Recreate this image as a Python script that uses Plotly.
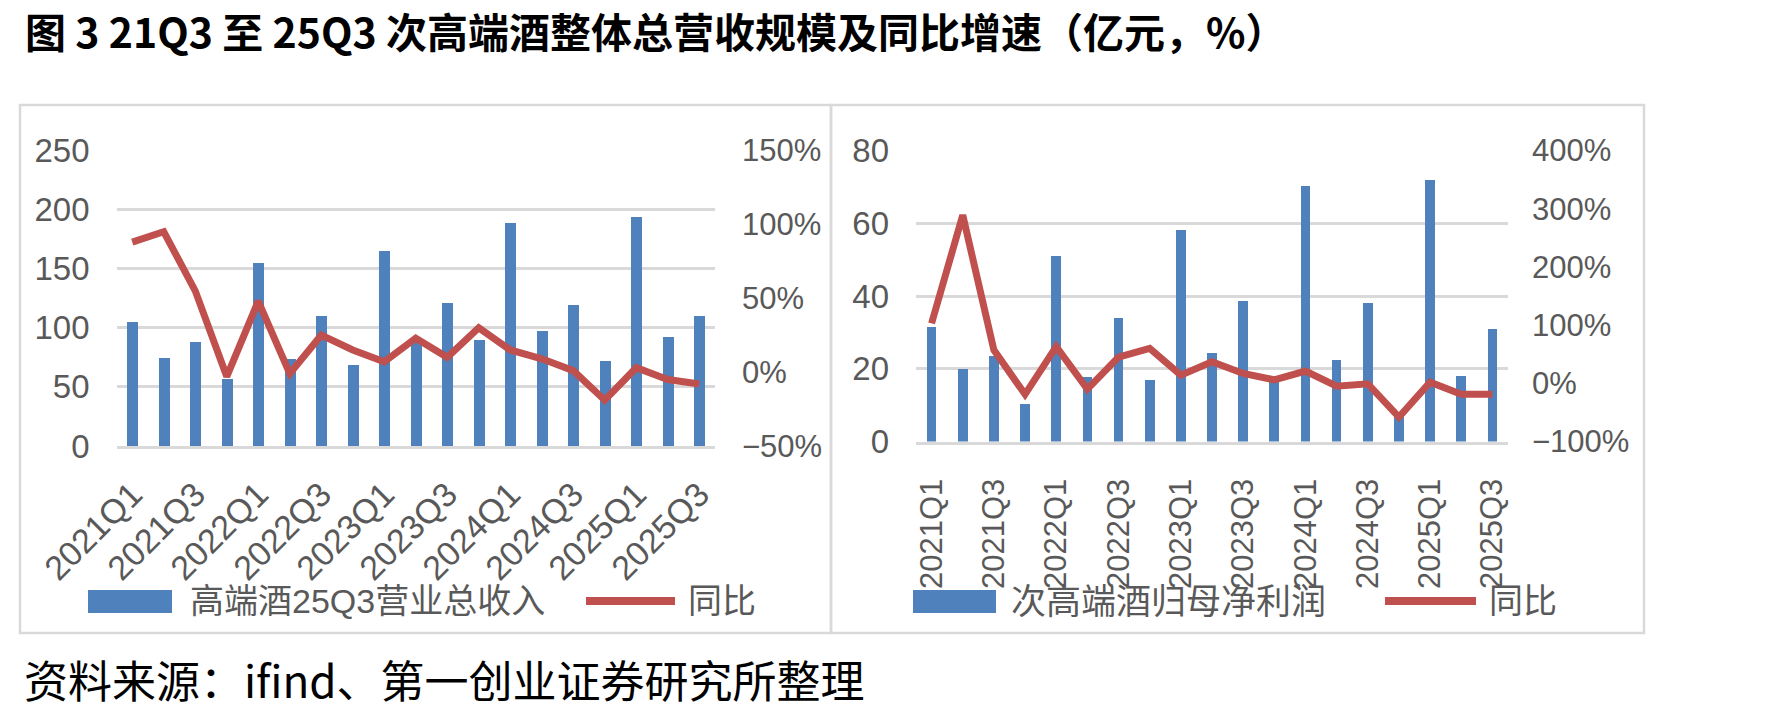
import plotly.graph_objects as go

# ---------------- data ----------------
quarters = ["2021Q1", "2021Q2", "2021Q3", "2021Q4",
            "2022Q1", "2022Q2", "2022Q3", "2022Q4",
            "2023Q1", "2023Q2", "2023Q3", "2023Q4",
            "2024Q1", "2024Q2", "2024Q3", "2024Q4",
            "2025Q1", "2025Q2", "2025Q3"]
tick_labels = quarters[::2]

# left panel: 高端酒 revenue (亿元) and YoY (%)
rev_values = [105, 75, 88, 57, 155, 74, 110, 69, 165, 88,
              121, 90, 189, 98, 120, 72, 194, 93, 110]
rev_yoy = [88, 95, 55, -3, 48, -1, 25, 15, 7, 23,
           10, 30, 15, 9, 1, -19, 3, -5, -8]

# right panel: 次高端酒 net profit (亿元) and YoY (%)
np_values = [31.5, 20, 23.7, 10.5, 51, 18, 34, 17, 58.4, 24.6,
             38.9, 17, 70.5, 22.6, 38.3, 7, 72.1, 18.2, 31.2]
np_yoy = [103, 289, 57, -19, 63, -10, 45, 60, 14, 37,
          17, 6, 21, -5, -1, -58, 2, -19, -19]

title_text = "图 3 21Q3 至 25Q3 次高端酒整体总营收规模及同比增速（亿元，%）"
source_text = "资料来源：ifind、第一创业证券研究所整理"
left_bar_name = "高端酒25Q3营业总收入"
right_bar_name = "次高端酒归母净利润"
line_name = "同比"

# ---------------- style ----------------
W, H = 1778, 715
BLUE = "#4F81BD"
RED = "#C0504D"
GRID = "#D9D9D9"
TXT = "#595959"
LAT = "Liberation Sans, Arial, Noto Sans CJK SC, sans-serif"
CJK = "Liberation Sans, Noto Sans CJK SC, sans-serif"


def px_x(x):
    return x / W


def px_y(y):
    return 1 - y / H


fig = go.Figure()

fig.add_trace(go.Bar(x=quarters, y=rev_values, name=left_bar_name,
                     marker=dict(color=BLUE, line=dict(width=0)),
                     width=0.34, xaxis="x", yaxis="y", showlegend=False))
fig.add_trace(go.Scatter(x=quarters, y=rev_yoy, name=line_name, mode="lines",
                         line=dict(color=RED, width=7),
                         xaxis="x", yaxis="y2", showlegend=False))
fig.add_trace(go.Bar(x=quarters, y=np_values, name=right_bar_name,
                     marker=dict(color=BLUE, line=dict(width=0)),
                     width=0.31, xaxis="x3", yaxis="y3", showlegend=False))
fig.add_trace(go.Scatter(x=quarters, y=np_yoy, name=line_name, mode="lines",
                         line=dict(color=RED, width=7),
                         xaxis="x3", yaxis="y4", showlegend=False))

yl_dom = [px_y(446), px_y(150.5)]
yr_dom = [px_y(441.5), px_y(150.5)]

common_x = dict(type="category", tickmode="array", tickvals=tick_labels,
                showgrid=False, zeroline=False, showline=True,
                linecolor=GRID, linewidth=2.5, ticks="", automargin=False,
                range=[-0.5, len(quarters) - 0.5])

fig.update_layout(
    width=W, height=H,
    margin=dict(l=0, r=0, t=0, b=0, autoexpand=False),
    paper_bgcolor="white", plot_bgcolor="white",
    bargap=0,
    xaxis=dict(**common_x, domain=[px_x(116.5), px_x(715)], anchor="y",
               tickangle=-45, ticklabelstandoff=12,
               tickfont=dict(family=LAT, size=34, color=TXT)),
    yaxis=dict(domain=yl_dom, range=[0, 250], dtick=50, showgrid=True,
               gridcolor=GRID, gridwidth=2.5, zeroline=False, ticks="",
               tickfont=dict(family=LAT, size=33, color=TXT), automargin=False,
               ticklabelstandoff=26, anchor="x"),
    yaxis2=dict(domain=yl_dom, range=[-50, 150], dtick=50, ticksuffix="%",
                overlaying="y", side="right", anchor="x", showgrid=False,
                zeroline=False, ticks="", automargin=False,
                tickfont=dict(family=LAT, size=31, color=TXT),
                ticklabelstandoff=26),
    xaxis3=dict(**common_x, domain=[px_x(916), px_x(1508)], anchor="y3",
                tickangle=-90, ticklabelstandoff=22,
                tickfont=dict(family=LAT, size=31, color=TXT)),
    yaxis3=dict(domain=yr_dom, range=[0, 80], dtick=20, showgrid=True,
                gridcolor=GRID, gridwidth=2.5, zeroline=False, ticks="",
                tickfont=dict(family=LAT, size=33, color=TXT), automargin=False,
                ticklabelstandoff=26, anchor="x3"),
    yaxis4=dict(domain=yr_dom, range=[-100, 400], dtick=100, ticksuffix="%",
                overlaying="y3", side="right", anchor="x3", showgrid=False,
                zeroline=False, ticks="", automargin=False,
                tickfont=dict(family=LAT, size=31, color=TXT),
                ticklabelstandoff=23),
    showlegend=False,
)

shapes = []
# panel borders
for x0, x1 in [(20, 831), (831, 1644)]:
    shapes.append(dict(type="rect", xref="paper", yref="paper",
                       x0=px_x(x0), x1=px_x(x1), y0=px_y(633), y1=px_y(105),
                       line=dict(color=GRID, width=2.5), fillcolor="rgba(0,0,0,0)",
                       layer="below"))
# legend swatches
for bx0, bx1, lx0, lx1 in [(88, 172, 586, 675), (913, 996, 1385, 1476)]:
    shapes.append(dict(type="rect", xref="paper", yref="paper",
                       x0=px_x(bx0), x1=px_x(bx1), y0=px_y(613), y1=px_y(590),
                       line=dict(width=0), fillcolor=BLUE))
    shapes.append(dict(type="line", xref="paper", yref="paper",
                       x0=px_x(lx0), x1=px_x(lx1), y0=px_y(601), y1=px_y(601),
                       line=dict(color=RED, width=8)))
fig.update_layout(shapes=shapes)

annotations = [
    dict(text=title_text, x=px_x(24), y=px_y(30), xref="paper", yref="paper",
         xanchor="left", yanchor="middle", showarrow=False, borderpad=0,
         font=dict(family="Noto Sans CJK SC", size=41, color="black", weight="bold")),
    dict(text=source_text, x=px_x(22), y=px_y(679), xref="paper", yref="paper",
         xanchor="left", yanchor="middle", showarrow=False,
         font=dict(family="Noto Sans CJK SC", size=44, color="black")),
    dict(text=left_bar_name, x=px_x(188), y=px_y(601), xref="paper", yref="paper",
         xanchor="left", yanchor="middle", showarrow=False,
         font=dict(family=CJK, size=34, color=TXT)),
    dict(text=line_name, x=px_x(686), y=px_y(601), xref="paper", yref="paper",
         xanchor="left", yanchor="middle", showarrow=False,
         font=dict(family=CJK, size=34, color=TXT)),
    dict(text=right_bar_name, x=px_x(1009), y=px_y(601), xref="paper", yref="paper",
         xanchor="left", yanchor="middle", showarrow=False,
         font=dict(family=CJK, size=35, color=TXT)),
    dict(text=line_name, x=px_x(1487), y=px_y(601), xref="paper", yref="paper",
         xanchor="left", yanchor="middle", showarrow=False,
         font=dict(family=CJK, size=34, color=TXT)),
]
fig.update_layout(annotations=annotations)

fig.write_html("out.html")
